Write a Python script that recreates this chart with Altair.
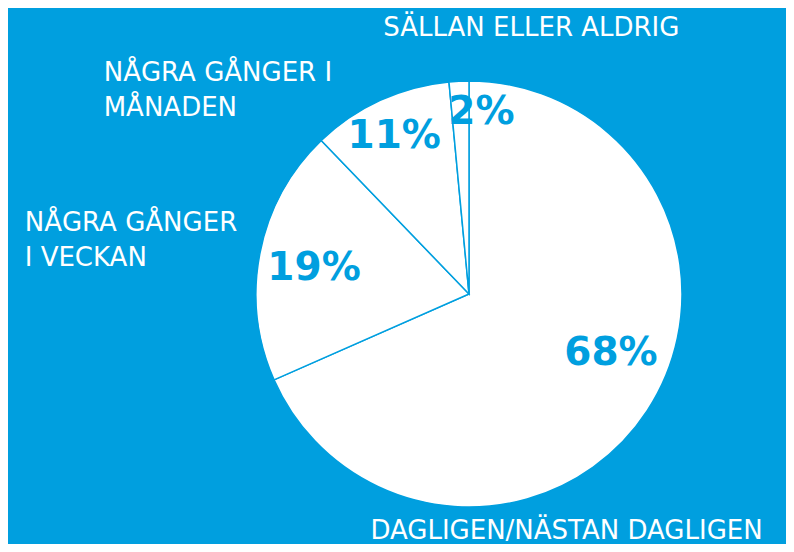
import altair as alt
import pandas as pd

# Data
categories = ["DAGLIGEN/NÄSTAN DAGLIGEN", "NÅGRA GÅNGER I VECKAN",
              "NÅGRA GÅNGER I MÅNADEN", "SÄLLAN ELLER ALDRIG"]
outer_labels = ["DAGLIGEN/NÄSTAN DAGLIGEN", "NÅGRA GÅNGER\nI VECKAN",
                "NÅGRA GÅNGER I\nMÅNADEN", "SÄLLAN ELLER ALDRIG"]
values = [68.4, 19.4, 10.7, 1.5]
# printed labels
pct_labels = ["68%", "19%", "11%", "2%"]

df = pd.DataFrame({
    "cat": categories,
    "outer": outer_labels,
    "value": values,
    "pct": pct_labels,
    "idx": list(range(len(categories))),
})

BLUE = "#009FDF"
CX, CY = 461, 286
W, H = 778, 536

theta_scale = alt.Scale(domain=[0, 100])

base = (
    alt.Chart(df)
    .transform_window(cum="sum(value)", sort=[alt.SortField("idx")], frame=[None, 0])
    .transform_calculate(start="datum.cum - datum.value",
                         mid="datum.cum - datum.value / 2")
    .encode(x=alt.value(CX), y=alt.value(CY))
)

pie = base.mark_arc(outerRadius=213, fill="white", stroke=BLUE, strokeWidth=1.5).encode(
    theta=alt.Theta("start:Q", scale=theta_scale, stack=None),
    theta2="cum:Q",
)

# per-label layout offsets
pct_style = {
    "68%": (8, -28),
    "19%": (2, 5),
    "11%": (-8, -13),
    "2%": (20, -22),
}
outer_style = {
    categories[0]: ("left", -308, 100),
    categories[1]: ("left", -199, -23),
    categories[2]: ("left", -261, 6),
    categories[3]: ("left", -74, -16),
}

layers = [pie]
for p, (dx, dy) in pct_style.items():
    layers.append(
        base.transform_filter(alt.datum.pct == p)
        .mark_text(radius=160, dx=dx, dy=dy, fontSize=39, font="DejaVu Sans",
                   fontWeight="bold", color=BLUE, align="center", baseline="middle")
        .encode(theta=alt.Theta("mid:Q", scale=theta_scale, stack=None), text="pct:N")
    )
for c, (al, dx, dy) in outer_style.items():
    layers.append(
        base.transform_filter(alt.datum.cat == c)
        .mark_text(radius=250, dx=dx, dy=dy, fontSize=26, font="DejaVu Sans",
                   color="white", align=al, baseline="middle",
                   lineBreak="\n", lineHeight=35)
        .encode(theta=alt.Theta("mid:Q", scale=theta_scale, stack=None), text="outer:N")
    )

chart = alt.layer(*layers).properties(
    width=W, height=H, padding=0, background=BLUE,
    autosize=alt.AutoSizeParams(type="none"),
).configure_view(stroke=None)

chart.save("out.html", embed_options={"renderer": "svg", "actions": False})
